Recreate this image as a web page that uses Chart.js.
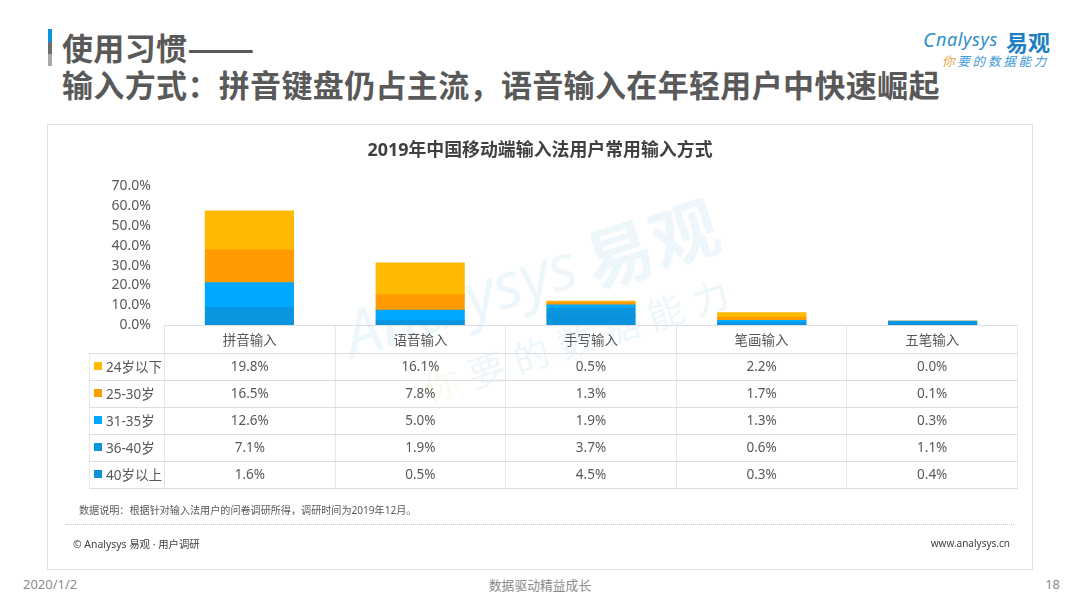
<!DOCTYPE html>
<html>
<head>
<meta charset="utf-8">
<script src="https://cdn.jsdelivr.net/npm/chart.js@4"></script>
<style>
  html, body { margin: 0; padding: 0; background: #fff; }
  body { width: 1080px; height: 608px; overflow: hidden; position: relative;
         font-family: "Noto Sans", "Noto Sans CJK SC", sans-serif; color: #595959; }
  .abs { position: absolute; white-space: nowrap; }
  #heading { left: 62px; top: 28px; font-family: "Noto Sans CJK SC"; font-size: 31px; font-weight: 700;
             line-height: 37px; letter-spacing: 0.35px; color: #595959; }
  #dash { display: inline-block; transform: scaleX(1.28); transform-origin: left center; }
  #card { left: 47px; top: 124px; width: 984px; height: 444px; border: 1px solid #e2e2e2; }
  #chartBox { position: absolute; left: 48px; top: 125px; width: 984px; height: 443px; }
  #dataTable { position: absolute; left: 89px; top: 325px; border-collapse: collapse; table-layout: fixed;
               width: 929px; font-size: 13.5px; color: #595959; }
  #dataTable td { border: 1px solid #e6e8ea; border-top-color: #dcdfe2; border-bottom-color: #dcdfe2;
                  text-align: center; padding: 0 0 2px 0; height: 24px; }
  #dataTable tr:first-child td { height: 25px; }
  #dataTable td.blank { border-left: 0; border-top: 0; }
  #dataTable td.lab { text-align: left; padding-left: 4px; white-space: nowrap; }
  .key { display: inline-block; width: 8px; height: 8px; margin-right: 4px; vertical-align: 1px;
         position: relative; top: -1px; }
  .wm { color: #0a8fd6; opacity: 0.07; font-weight: 700; transform-origin: left center; }
</style>
</head>
<body>
<div class="abs wm" style="left:345px;top:292px;font-size:64px;transform:rotate(-18deg);font-style:italic;font-weight:400">Analysys</div>
<div class="abs wm" style="left:586px;top:212px;font-size:68px;transform:rotate(-18deg);font-family:'Noto Sans CJK SC'">易观</div>
<div class="abs wm" style="left:424px;top:362px;font-size:36px;letter-spacing:11px;transform:rotate(-18deg);font-weight:400;font-family:'Noto Sans CJK SC'"><span style="color:#e8b04a">你</span>要的数据能力</div>

<div class="abs" style="left:48px;top:29px;width:4px;height:13px;background:#0b95dd"></div>
<div class="abs" style="left:48px;top:42px;width:4px;height:12px;background:#6d6d6d"></div>
<div class="abs" style="left:48px;top:54px;width:4px;height:12px;background:#a9a9a9"></div>
<div class="abs" id="heading">使用习惯<span id="dash">——</span><br>输入方式：拼音键盘仍占主流，语音输入在年轻用户中快速崛起</div>

<div class="abs" style="left:936px;top:27px;font-size:18px;letter-spacing:0.6px;font-style:italic;color:#2f8fc9">nalysys</div>
<div class="abs" style="left:923px;top:26px;font-size:20px;font-style:italic;color:#2f8fc9">C</div>
<div class="abs" style="left:1006px;top:25px;font-size:22px;font-weight:700;color:#1f7fc4;font-family:'Noto Sans CJK SC'">易观</div>
<div class="abs" style="left:942px;top:51px;font-size:12.5px;font-style:italic;letter-spacing:2.8px;color:#3d9ad6;font-family:'Noto Sans CJK SC'"><span style="color:#e8a53c">你</span>要的数据能力</div>

<div class="abs" id="card"></div>
<div id="chartBox"><canvas id="chart"></canvas></div>
<table id="dataTable"></table>

<div class="abs" style="left:79px;top:502px;font-size:10.1px;color:#595959">数据说明：根据针对输入法用户的问卷调研所得，调研时间为2019年12月。</div>
<div class="abs" style="left:66px;top:524px;width:948px;border-top:1px dotted #c4c4c4"></div>
<div class="abs" style="left:73px;top:536px;font-size:10.4px;color:#404040">© Analysys 易观 · 用户调研</div>
<div class="abs" style="right:70px;top:536px;font-size:10px;color:#404040">www.analysys.cn</div>

<div class="abs" style="left:23px;top:575px;font-size:13px;color:#8a8a8a">2020/1/2</div>
<div class="abs" style="left:440px;width:200px;text-align:center;top:575px;font-size:12.8px;color:#8a8a8a">数据驱动精益成长</div>
<div class="abs" style="right:20px;top:575px;font-size:13px;color:#8a8a8a">18</div>

<script>
const categories = ['拼音输入', '语音输入', '手写输入', '笔画输入', '五笔输入'];
const seriesNames = ['40岁以上', '36-40岁', '31-35岁', '25-30岁', '24岁以下'];
const under24 = [19.8, 16.1, 0.5, 2.2, 0.0];
const age25to30 = [16.5, 7.8, 1.3, 1.7, 0.1];
const age31to35 = [12.6, 5.0, 1.9, 1.3, 0.3];
const age36to40 = [7.1, 1.9, 3.7, 0.6, 1.1];
const over40 = [1.6, 0.5, 4.5, 0.3, 0.4];
const seriesValues = [over40, age36to40, age31to35, age25to30, under24];
const seriesColors = ['#0a92dc', '#0a95df', '#00a9ff', '#ff9a00', '#ffb900'];
const yTicks = [0, 10, 20, 30, 40, 50, 60, 70];

// table under the chart, top row is the category names, legend keys sit in the first column
const table = document.getElementById('dataTable');
let html = '<colgroup><col style="width:75px">' + categories.map(() => '<col>').join('') + '</colgroup>';
html += '<tr><td class="blank"></td>' + categories.map(c => '<td>' + c + '</td>').join('') + '</tr>';
for (let i = seriesNames.length - 1; i >= 0; i--) {
  html += '<tr><td class="lab"><span class="key" style="background:' + seriesColors[i] + '"></span>' + seriesNames[i] + '</td>';
  html += seriesValues[i].map(v => '<td>' + v.toFixed(1) + '%</td>').join('') + '</tr>';
}
table.innerHTML = html;

new Chart(document.getElementById('chart'), {
  type: 'bar',
  data: {
    labels: categories,
    datasets: seriesNames.map((name, i) => ({
      label: name,
      data: seriesValues[i],
      backgroundColor: seriesColors[i],
      barPercentage: 0.515,
      categoryPercentage: 1,
      inflateAmount: 0.6
    }))
  },
  options: {
    responsive: true,
    maintainAspectRatio: false,
    animation: false,
    layout: { padding: { left: 14, right: 14, top: 15, bottom: 243 } },
    plugins: {
      legend: { display: false },
      tooltip: { enabled: false },
      title: {
        display: true,
        text: '2019年中国移动端输入法用户常用输入方式',
        color: '#404040',
        font: { size: 17.9, weight: 'bold', family: '"Noto Sans", "Noto Sans CJK SC"' },
        padding: { top: 0, bottom: 25 }
      }
    },
    scales: {
      x: { stacked: true, display: false },
      y: {
        stacked: true,
        min: 0,
        max: 70,
        afterFit: (scale) => { scale.width = 102; },
        afterBuildTicks: (scale) => { scale.ticks = yTicks.map(v => ({ value: v })); },
        grid: { display: false },
        border: { display: false },
        ticks: {
          color: '#595959',
          padding: 5,
          autoSkip: false,
          font: { size: 14, family: '"Noto Sans", "Noto Sans CJK SC"' },
          callback: (v) => v.toFixed(1) + '%'
        }
      }
    }
  }
});
</script>
</body>
</html>
